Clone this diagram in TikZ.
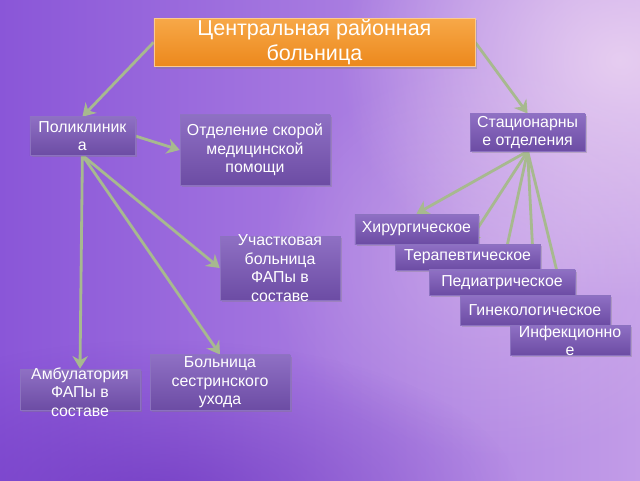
\documentclass[tikz,border=0pt]{standalone}
\usepackage{fontspec}
\setmainfont{Liberation Sans}
\setsansfont{Liberation Sans}
\usetikzlibrary{arrows.meta,shadows,fadings}

\pgfdeclarelayer{bg}
\pgfdeclarelayer{lines}
\pgfsetlayers{bg,lines,main}

\tikzfading[name=glowfade,inner color=transparent!0,outer color=transparent!100]

\definecolor{bgleft}{HTML}{8A56D8}
\definecolor{bgright}{HTML}{C29CE8}
\definecolor{glow}{HTML}{EDD6F2}
\definecolor{deep}{HTML}{6A32BE}
\definecolor{boxtop}{HTML}{8F70C4}
\definecolor{boxbot}{HTML}{6C4CA4}
\definecolor{boxedge}{HTML}{8C72C0}
\definecolor{orangetop}{HTML}{F7A848}
\definecolor{orangebot}{HTML}{EC881C}
\definecolor{arrowgreen}{HTML}{A7B98F}

\begin{document}
\begin{tikzpicture}[box/.style={top color=boxtop,bottom color=boxbot,draw=boxedge,thin,text=white,
    align=center,inner sep=1pt,drop shadow={shadow xshift=1.5pt,shadow yshift=-1.5pt,opacity=0.35}},
  boxtext/.style={text=white,align=center,inner sep=0pt},
  arj/.style={line width=2pt,arrowgreen,-{Stealth[length=9pt,width=11pt]}}]
  \useasboundingbox (0,0) rectangle (16,12);
  \begin{pgfonlayer}{bg}
    \fill[left color=bgleft,right color=bgright] (0,0) rectangle (16,12);
    \fill[glow,path fading=glowfade,opacity=0.85] (15.5,10.5) ellipse (7 and 6);
    \fill[glow,path fading=glowfade,opacity=0.35] (12.5,5.5) ellipse (6 and 5);
    \fill[deep,path fading=glowfade,opacity=0.7] (4,-0.5) ellipse (9 and 4);
  \end{pgfonlayer}

  \begin{scope}[font=\sffamily\fontsize{11.3}{13.2}\selectfont]
   \node(title)[box,top color=orangetop,bottom color=orangebot,draw=orangetop!60!white,
     minimum width=8.03cm,minimum height=1.18cm,font=\sffamily\fontsize{15.3}{17.8}\selectfont]
     at (7.86,10.94) {Центральная районная\\больница};

   \node(pol)[box,minimum width=2.63cm,minimum height=0.95cm] at (2.06,8.6) {Поликлиник\\а};
   \node(otd)[box,minimum width=3.75cm,minimum height=1.75cm] at (6.375,8.25) {Отделение скорой\\медицинской\\помощи};
   \node(stac)[box,minimum width=2.88cm,minimum height=0.93cm] at (13.19,8.69) {Стационарны\\е отделения};

   \node(uch)[box,minimum width=3cm,minimum height=1.6cm] at (7,5.3) {};
   \node(uch text)[boxtext] at (uch) {Участковая\\больница\\ФАПы в\\составе};

   \node(amb)[box,minimum width=3cm,minimum height=1.03cm] at (2,2.26) {};
   \node(amb text)[boxtext] at (2,2.2) {Амбулатория\\ФАПы в\\составе};
   \node(bol)[box,minimum width=3.5cm,minimum height=1.38cm] at (5.5,2.44) {Больница\\сестринского\\ухода};

   % departments of the hospital
   \node(hir)[box,minimum width=3.08cm,minimum height=0.75cm] at (10.41,6.275) {Хирургическое};
   \node(ter)[box,minimum width=3.63cm,minimum height=0.65cm] at (11.69,5.575) {Терапевтическое};
   \node(ped)[box,minimum width=3.65cm,minimum height=0.63cm] at (12.55,4.94) {Педиатрическое};
   \node(gin)[box,minimum width=3.75cm,minimum height=0.75cm] at (13.375,4.25) {Гинекологическое};
   \node(inf)[box,minimum width=3cm,minimum height=0.75cm] at (14.25,3.5) {};
   \node(inf text)[boxtext] at (14.25,3.48) {Инфекционно\\е};
  \end{scope}

  \begin{pgfonlayer}{lines}
   \draw[arj] (title.west) -- (pol.north);
   \draw[arj] (title.east) -- (stac.north);
   \draw[arj] (pol.east) -- (otd.west);
   \draw[arj] (pol.south) -- (amb.north);
   \draw[arj] (pol.south) -- (bol.north);
   \draw[arj] (pol.south) -- (uch.west);
   \draw[arj] (stac.south) -- (hir.north);
   \draw[arj] (stac.south) -- (ter.north);
   \draw[arj] (stac.south) -- (ped.north);
   \draw[arj] (stac.south) -- (gin.north);
   \draw[arj] (stac.south) -- (inf.north);
  \end{pgfonlayer}
\end{tikzpicture}
\end{document}
